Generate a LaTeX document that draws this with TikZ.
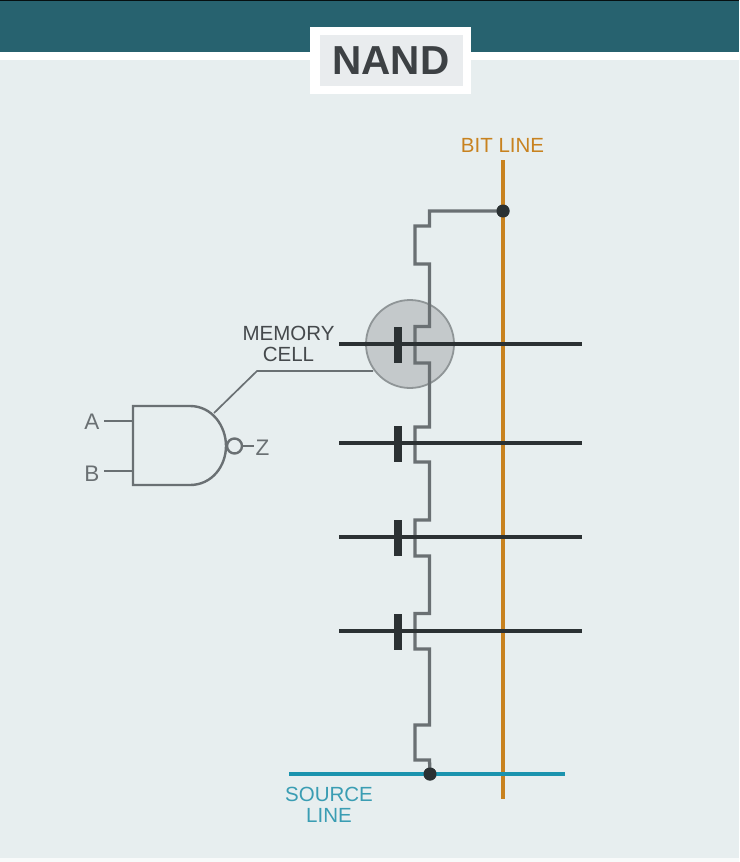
\documentclass[tikz,border=0pt]{standalone}
\usepackage{fontspec}
\setmainfont{Liberation Sans}
\definecolor{pagebg}{HTML}{E7EEEF}
\definecolor{banner}{HTML}{27626F}
\definecolor{titlebg}{HTML}{E9ECEE}
\definecolor{titletxt}{HTML}{3D4144}
\definecolor{wiregray}{HTML}{6A7073}
\definecolor{darkline}{HTML}{2B3133}
\definecolor{txtgray}{HTML}{45494C}
\definecolor{logictxt}{HTML}{6A7073}
\definecolor{bitc}{HTML}{C8821F}
\definecolor{srcc}{HTML}{1B93AE}
\definecolor{srctxt}{HTML}{3A9DB3}
\definecolor{cellfill}{HTML}{C4C9CB}
\definecolor{cellline}{HTML}{8F9597}
\tikzset{
  x=1pt,y=-1pt,
  lab/.style={font=\fontsize{20.5}{21}\selectfont,align=center,inner sep=0pt,text=txtgray},
  logiclab/.style={font=\fontsize{22.5}{23}\selectfont,inner sep=0pt,text=logictxt},
  wirepath/.style={draw=wiregray,line width=3.3pt,line join=miter},
  gateline/.style={draw=darkline,line width=3.4pt},
  gatebar/.style={draw=none,fill=darkline,minimum width=8pt,minimum height=36pt,inner sep=0pt},
  junction/.style={circle,fill=darkline,minimum size=13pt,inner sep=0pt},
  logicline/.style={draw=wiregray,line width=2.4pt}
}
\begin{document}
\begin{tikzpicture}
\useasboundingbox (0,0) rectangle (739,862);
\fill[pagebg] (0,0) rectangle (739,862);
\fill[white!70!pagebg] (0,858) rectangle (739,862);
\fill[black!85!banner] (0,0) rectangle (739,1);
\fill[banner] (0,1) rectangle (739,52);
\fill[white] (0,52) rectangle (739,60);
\node[draw=none,fill=white,minimum width=161pt,minimum height=67pt,inner sep=0pt] (titlebox) at (390.5,60.5) {};
\node[fill=titlebg,minimum width=143pt,minimum height=51pt,inner sep=0pt,text=titletxt,font=\fontsize{40.5}{42}\selectfont\bfseries] (title) at (391,60.5) {NAND};

% memory cell highlight
\node[circle,fill=cellfill,draw=cellline,line width=1.8pt,minimum size=88pt,inner sep=0pt] (cell) at (410,344) {};

% lines
\coordinate (bitTop) at (503,160);
\coordinate (bitBot) at (503,799);
\coordinate (srcL) at (289,774);
\coordinate (srcR) at (565,774);
\node[junction] (dotTop) at (503,211) {};
\node[junction] (dotBot) at (430,774) {};

\draw[draw=bitc,line width=4pt] (bitTop) -- (bitBot);
\draw[draw=srcc,line width=4pt] (srcL) -- (srcR);

% NAND string
\draw[wirepath] (dotTop.center) -- (429.5,211) |- (415,226) |- (429.5,264) |- (415,326.5) |- (429.5,363) |- (415,427) |- (429.5,462) |- (415,520) |- (429.5,556) |- (415,613.5) |- (429.5,649) |- (415,725) |- (429.5,760) -- (dotBot.center);

% word lines and gates
\foreach \n/\y in {a/344,b/443,c/537,d/631}{
  \coordinate (wl\n) at (339,\y);
  \coordinate (wr\n) at (582,\y);
  \draw[gateline] (wl\n) -- (wr\n);
  \node[gatebar] (bar\n) at (397.5,\y+0.5) {};
}
\node[junction] at (dotTop) {};
\node[junction] at (dotBot) {};

% labels
\node[lab,text=bitc] (bitlab) at (502.5,145) {BIT LINE};
\node[lab,text=srctxt] (srclab) at (329,805) {SOURCE\\LINE};
\node[lab] (memlab) at (288.5,344) {MEMORY\\CELL};

% NAND gate
\coordinate (gTL) at (133,406);
\coordinate (gBL) at (133,485);
\draw[logicline,line join=miter] (gBL) -- (gTL) -- (190,406) .. controls (212,406) and (226,426) .. (226,446) .. controls (226,466) and (212,485) .. (190,485) -- cycle;
\node[circle,draw=wiregray,line width=2.4pt,minimum size=15pt,inner sep=0pt] (bub) at (234.5,446) {};
\node[logiclab] (zlab) at (262.5,448) {Z};
\node[logiclab] (alab) at (92,422) {A};
\node[logiclab] (blab) at (92,473.5) {B};
\coordinate (ain) at (133,421);
\coordinate (bin) at (133,471);
\coordinate (zin) at (254,446);
\draw[logicline] (104,421) -- (ain);
\draw[logicline] (104,471) -- (bin);
\draw[logicline] (bub.east) -- (zin);

% leader
\coordinate (leadA) at (214,413);
\coordinate (leadB) at (257,371);
\coordinate (leadC) at (373,371);
\draw[draw=wiregray,line width=1.7pt] (leadA) -- (leadB) -- (leadC);
\end{tikzpicture}
\end{document}
